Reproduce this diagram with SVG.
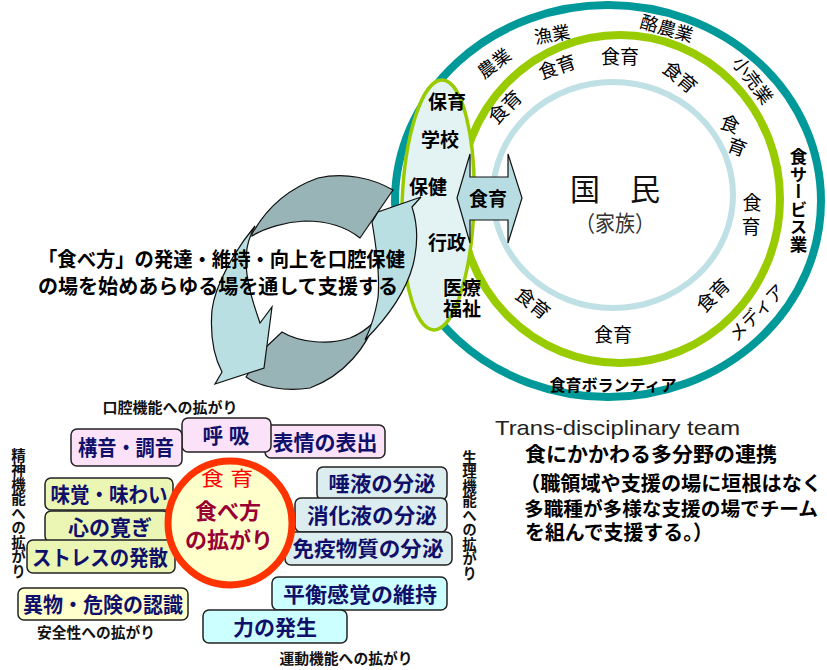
<svg xmlns="http://www.w3.org/2000/svg" width="827" height="670" viewBox="0 0 827 670">
<style>
text{font-family:"Liberation Sans","Noto Sans CJK JP",sans-serif}
.b{font-weight:bold}
.c{text-anchor:middle}
.box{stroke:#222;stroke-width:1.5}
.pink{fill:#fbe2f8}.lg{fill:#ebf6b4}.yl{fill:#ffffcc}.bg{fill:#dcedef}.cy{fill:#ccffff}
.bt{font-size:21px;font-weight:bold;fill:#10106b;text-anchor:middle}
.lab{font-size:14.5px;font-weight:bold;fill:#111}
.ring{font-size:19px;fill:#000;text-anchor:middle}
.outer{font-size:18px;fill:#000;text-anchor:middle}
.el{font-size:19px;font-weight:bold;fill:#000;text-anchor:middle}
.vt{writing-mode:vertical-rl}
.arL{fill:#b9dfe3;stroke:#111;stroke-width:1.2}
.arD{fill:#98b4b6;stroke:#111;stroke-width:1.2}
</style>
<rect width="827" height="670" fill="#ffffff"/>

<g id="rings">
<ellipse cx="608" cy="201" rx="213" ry="196" fill="none" stroke="#009999" stroke-width="8"/>
<ellipse cx="620" cy="199" rx="160" ry="164" fill="none" stroke="#99cc00" stroke-width="8"/>
<ellipse cx="613" cy="195" rx="120" ry="113" fill="none" stroke="#bfe0e4" stroke-width="6"/>
</g>

<g id="kokumin">
<text class="c" x="615" y="200" font-size="30" fill="#111">国　民</text>
<text class="c" x="615" y="231" font-size="22" fill="#333" textLength="80" lengthAdjust="spacingAndGlyphs">（家族）</text>
</g>

<g id="inner-labels">
<text class="ring" transform="translate(505,107) rotate(-45)" y="7">食育</text>
<text class="ring" transform="translate(557,67) rotate(-19)" y="7">食育</text>
<text class="ring" transform="translate(620,57)" y="7">食育</text>
<text class="ring" transform="translate(680,77) rotate(40)" y="7">食育</text>
<text class="ring" transform="translate(730,124) rotate(20)" y="7">食</text>
<text class="ring" transform="translate(737,147) rotate(20)" y="7">育</text>
<text class="ring" x="752" y="210">食</text>
<text class="ring" x="751" y="234">育</text>
<text class="ring" transform="translate(713,295) rotate(-45)" y="7">食育</text>
<text class="ring" transform="translate(613,335)" y="7">食育</text>
<text class="ring" transform="translate(533,303) rotate(39)" y="7">食育</text>
</g>

<g id="outer-labels">
<text class="outer" transform="translate(494,63) rotate(-37)" y="7">農業</text>
<text class="outer" transform="translate(552,34) rotate(-10)" y="7">漁業</text>
<text class="outer" transform="translate(667,28) rotate(16)" y="7">酪農業</text>
<text class="outer" transform="translate(753,80) rotate(53)" y="7">小売業</text>
<text class="b vt" x="797" y="148" font-size="17.5">食サービス業</text>
<text class="outer" transform="translate(757,313) rotate(-46)" y="6" font-size="15.5">メディア</text>
<text class="c b" x="613" y="391" font-size="16">食育ボランティア</text>
</g>

<g id="places">
<ellipse cx="438" cy="205" rx="36" ry="125" fill="#e3f3f4" stroke="#99cc00" stroke-width="3.5" transform="rotate(2 438 205)"/>
<text class="el" x="447" y="109">保育</text>
<text class="el" x="440" y="147">学校</text>
<text class="el" x="428" y="194" font-size="24">保健</text>
<text class="el" x="447" y="250">行政</text>
<text class="el" x="462" y="295">医療</text>
<text class="el" x="462" y="316">福祉</text>
</g>

<g id="connectors">
<polygon points="457,198 470,154 470,177 508,177 508,154 522,198 508,243 508,220 470,220 470,243" fill="#b7dde2" stroke="#111" stroke-width="1.2"/>
<path class="arD" d="M252,234 C268,205 290,188 318,178 C345,172 372,178 393,190 L360,238 C345,226 325,221 305,221 C285,222 265,228 252,236 Z"/>
<path class="arD" d="M265,348 L282,332 C300,343 330,345 350,338 C360,334 368,328 374,322 C368,345 345,375 310,388 C285,392 260,387 246,377 Z"/>
<path class="arL" d="M255,226 C235,250 215,285 212,310 C210,335 213,355 222,372 L215,384 L264,368 L272,307 L260,323 C252,300 246,280 246,260 C246,245 250,235 255,226 Z"/>
<path class="arL" d="M365,340 C385,320 405,295 413,265 C418,245 418,225 412,207 L421,197 L378,212 L372,222 C376,245 380,275 378,298 C375,315 370,330 365,340 Z"/>
</g>
<g id="shokuiku-arrow-label">
<text class="el" x="488" y="206">食育</text>
</g>

<g id="support-text">
<text class="b" x="38" y="267" font-size="20" textLength="367" lengthAdjust="spacingAndGlyphs">「食べ方」の発達・維持・向上を口腔保健</text>
<text class="b" x="38" y="294" font-size="20" textLength="360" lengthAdjust="spacingAndGlyphs">の場を始めあらゆる場を通して支援する</text>
</g>

<g id="team">
<text x="495" y="435" font-size="21" fill="#222" textLength="245" lengthAdjust="spacingAndGlyphs">Trans-disciplinary team</text>
<text class="b" x="525" y="462" font-size="20.5" textLength="252" lengthAdjust="spacingAndGlyphs">食にかかわる多分野の連携</text>
<text class="b" x="520" y="491" font-size="20" textLength="302" lengthAdjust="spacingAndGlyphs">（職領域や支援の場に垣根はなく</text>
<text class="b" x="524" y="516" font-size="19.5" textLength="294" lengthAdjust="spacingAndGlyphs">多職種が多様な支援の場でチーム</text>
<text class="b" x="525" y="540" font-size="20.5" textLength="188" lengthAdjust="spacingAndGlyphs">を組んで支援する。）</text>
</g>

<g id="axis-labels">
<text class="lab c" x="170" y="413" textLength="135" lengthAdjust="spacingAndGlyphs">口腔機能への拡がり</text>
<text class="lab c" x="96" y="638" textLength="118" lengthAdjust="spacingAndGlyphs">安全性への拡がり</text>
<text class="lab c" x="346" y="664" textLength="133" lengthAdjust="spacingAndGlyphs">運動機能への拡がり</text>
<text class="lab vt" x="17" y="448">精神機能への拡がり</text>
<text class="lab vt" x="468" y="450">生理機能への拡がり</text>
</g>

<g id="box-hyojo"><rect class="box pink" x="265" y="425" width="120" height="33" rx="6"/><text class="bt" x="325" y="450" textLength="105" lengthAdjust="spacingAndGlyphs">表情の表出</text></g>
<g id="box-kokyu"><rect class="box pink" x="182" y="418" width="89" height="34" rx="6"/><text class="bt" x="226" y="443" textLength="47" lengthAdjust="spacingAndGlyphs">呼 吸</text></g>
<g id="box-koon"><rect class="box pink" x="71" y="429" width="111" height="37" rx="6"/><text class="bt" x="126" y="455" textLength="96" lengthAdjust="spacingAndGlyphs">構音・調音</text></g>

<g id="box-mikaku"><rect class="box lg" x="45" y="478" width="128" height="32" rx="6"/><text class="bt" x="109" y="502" textLength="117" lengthAdjust="spacingAndGlyphs">味覚・味わい</text></g>
<g id="box-kokoro"><rect class="box lg" x="45" y="511" width="124" height="31" rx="6"/><text class="bt" x="110" y="535" textLength="84" lengthAdjust="spacingAndGlyphs">心の寛ぎ</text></g>
<g id="box-stress"><rect class="box lg" x="27" y="540" width="148" height="33" rx="6"/><text class="bt" x="100" y="565" textLength="136" lengthAdjust="spacingAndGlyphs">ストレスの発散</text></g>
<g id="box-ibutsu"><rect class="box yl" x="18" y="588" width="170" height="32" rx="6"/><text class="bt" x="103" y="612" textLength="160" lengthAdjust="spacingAndGlyphs">異物・危険の認識</text></g>

<g id="box-daeki"><rect class="box bg" x="317" y="467" width="130" height="33" rx="6"/><text class="bt" x="382" y="491" textLength="107" lengthAdjust="spacingAndGlyphs">唾液の分泌</text></g>
<g id="box-shokaeki"><rect class="box bg" x="295" y="498" width="152" height="34" rx="6"/><text class="bt" x="372" y="523" textLength="130" lengthAdjust="spacingAndGlyphs">消化液の分泌</text></g>
<g id="box-meneki"><rect class="box bg" x="285" y="532" width="167" height="33" rx="6"/><text class="bt" x="368" y="556" textLength="151" lengthAdjust="spacingAndGlyphs">免疫物質の分泌</text></g>
<g id="box-heiko"><rect class="box cy" x="272" y="577" width="175" height="33" rx="6"/><text class="bt" x="360" y="602" textLength="154" lengthAdjust="spacingAndGlyphs">平衡感覚の維持</text></g>
<g id="box-chikara"><rect class="box cy" x="203" y="610" width="144" height="33" rx="6"/><text class="bt" x="275" y="635" textLength="84" lengthAdjust="spacingAndGlyphs">力の発生</text></g>

<g id="center-circle">
<circle cx="230" cy="523" r="62" fill="#ffffcc" stroke="#ff3300" stroke-width="7"/>
<text class="c" x="227" y="486" font-size="20" fill="#ff0000" textLength="52" lengthAdjust="spacingAndGlyphs">食 育</text>
<text class="c b" x="228" y="519" font-size="22" fill="#990033">食べ方</text>
<text class="c b" x="229" y="548" font-size="22" fill="#990033" textLength="88" lengthAdjust="spacingAndGlyphs">の拡がり</text>
</g>
</svg>
